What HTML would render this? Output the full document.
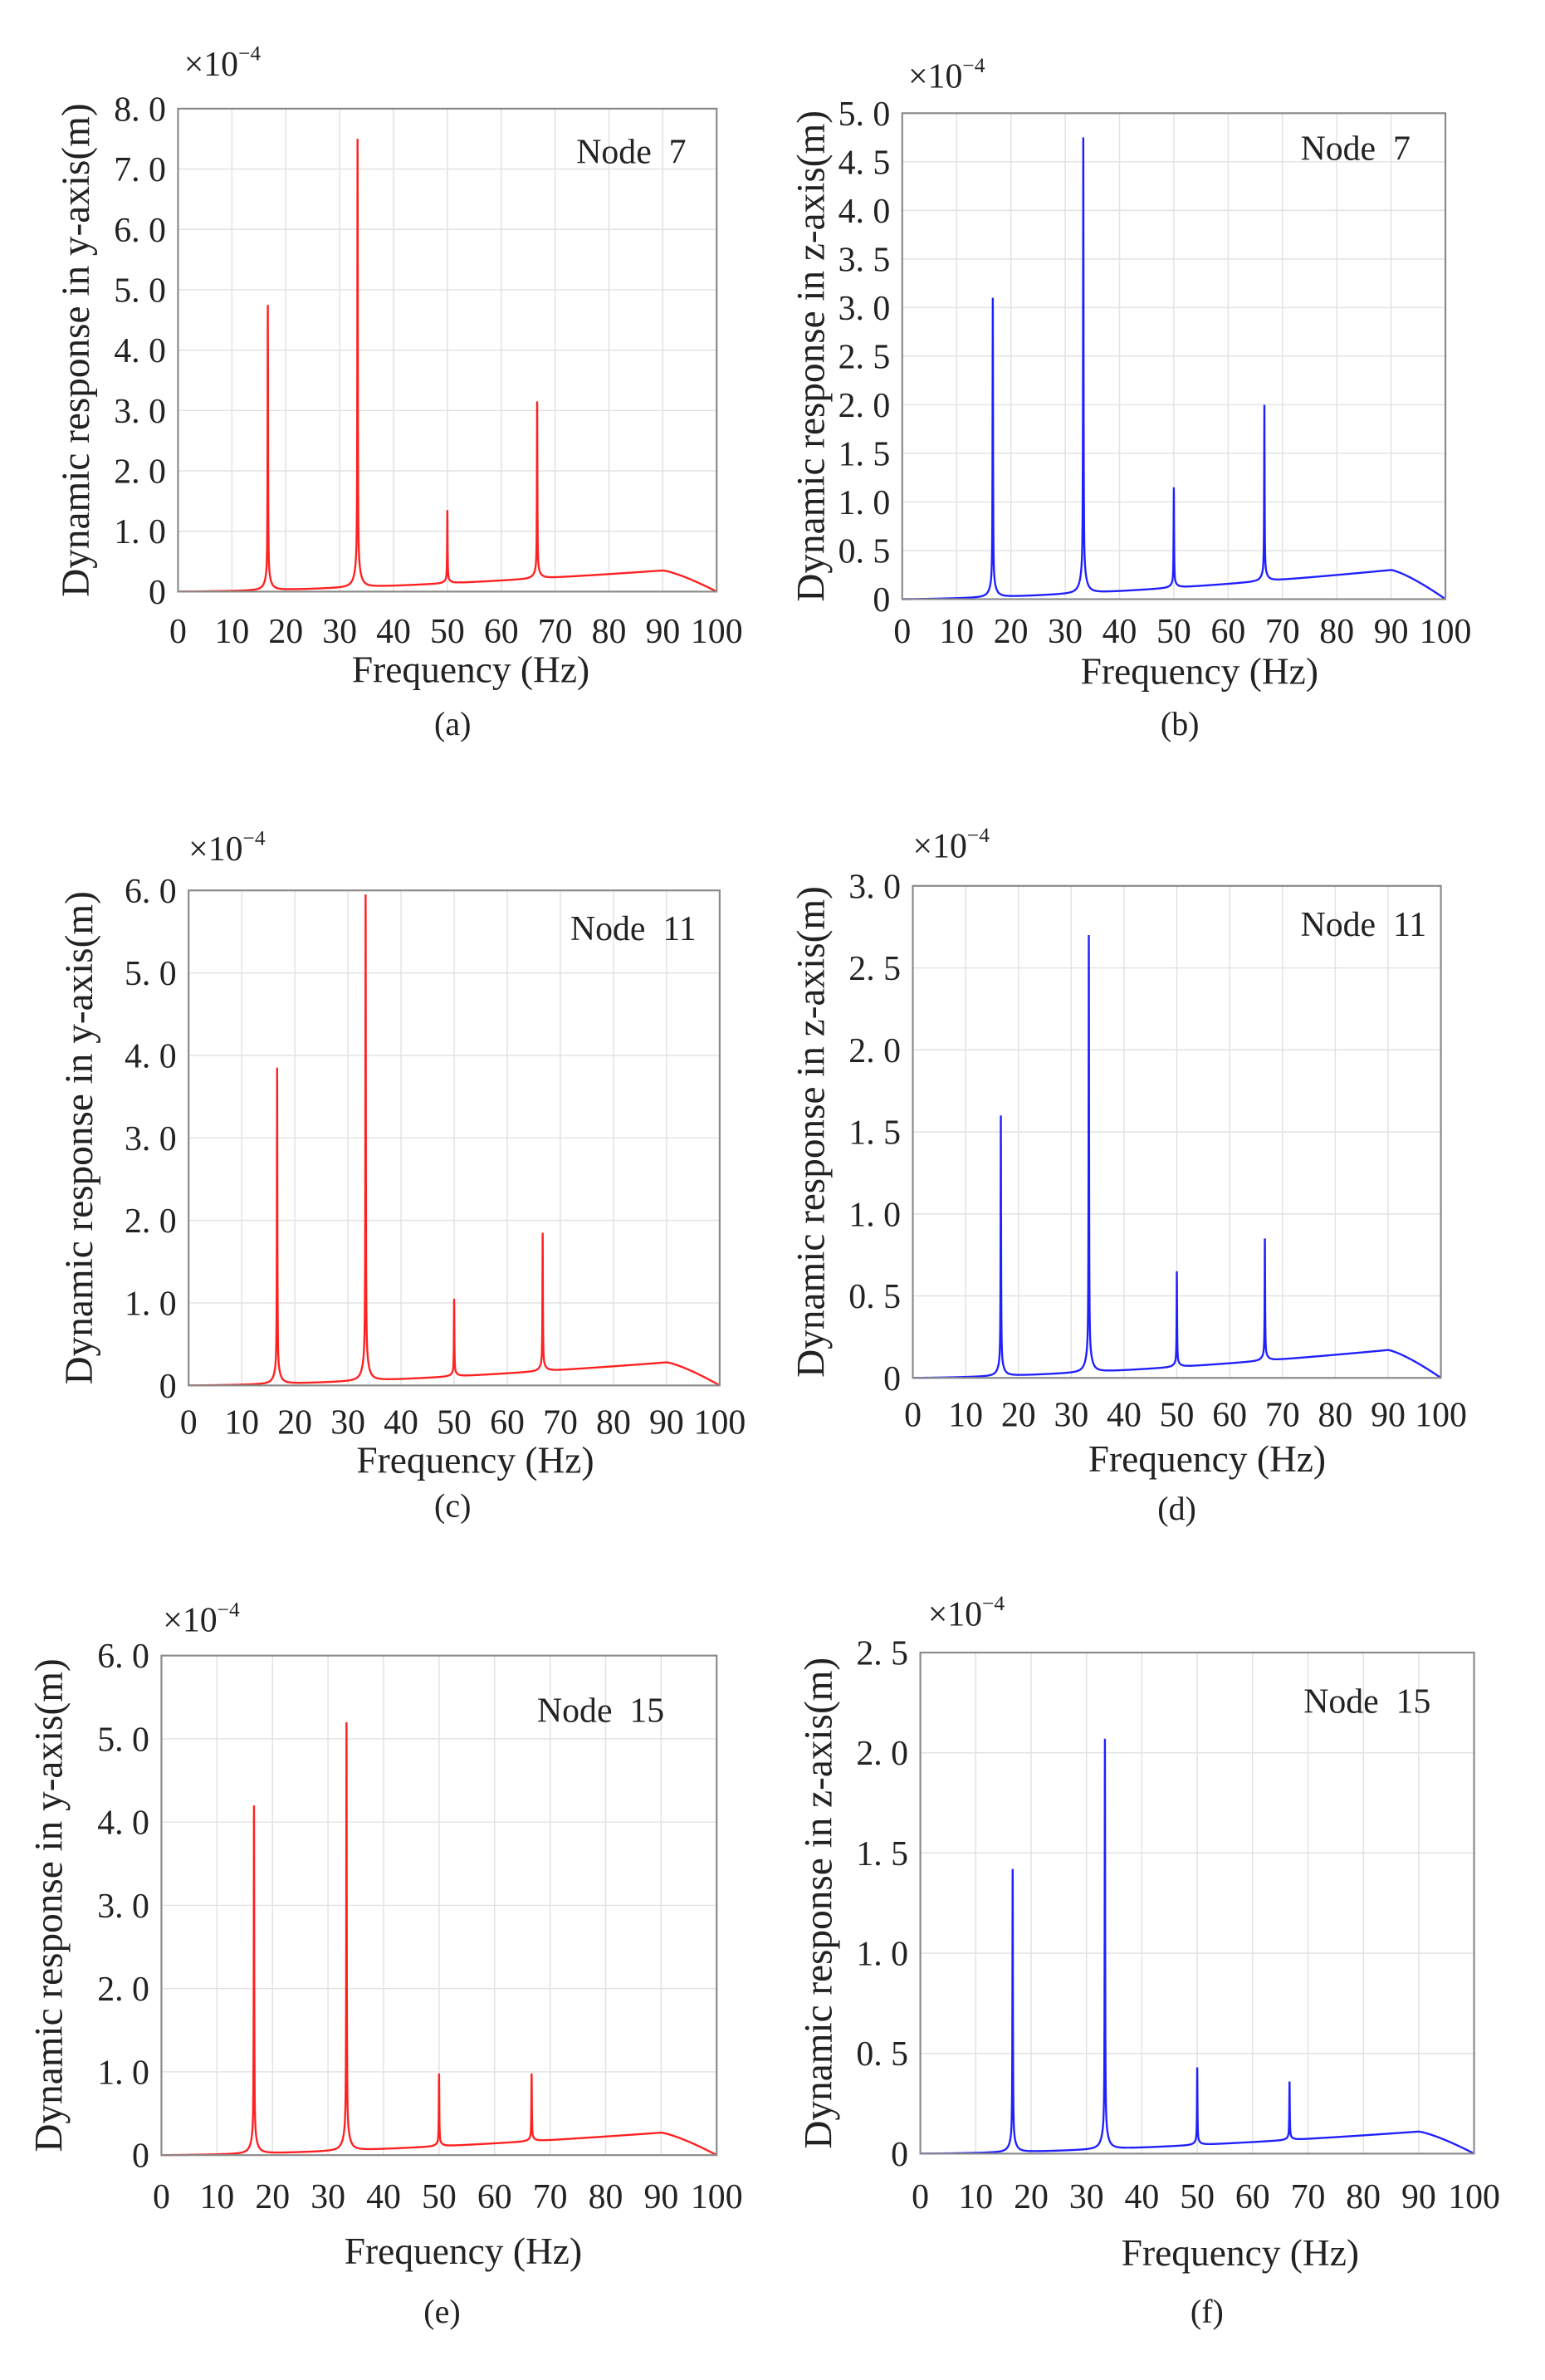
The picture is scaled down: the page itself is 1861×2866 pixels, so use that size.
<!DOCTYPE html>
<html><head><meta charset="utf-8"><style>
html,body{margin:0;padding:0;background:#fff;}
svg{display:block;}
text{font-family:"Liberation Serif","Noto Serif CJK SC",serif;fill:#222;}
</style></head><body>
<svg id="s" width="1861" height="2866" viewBox="0 0 1024 1577" preserveAspectRatio="none" xmlns="http://www.w3.org/2000/svg"></svg>
<script>
const P=[
 {x0:118,x1:475,y0:72,y1:392,max:8,step:1,pk:[4.75,7.5,1.35,3.15],H:0.35,col:'#ff2020',ax:'y',node:'Node  7',nx:382,ny:100,ex:122,ey:42,lx:50,xl:418,fy:444,fx:312,cap:'(a)',cx:300,cy:480},
 {x0:598,x1:958,y0:75,y1:397,max:5,step:0.5,pk:[3.1,4.75,1.15,2.0],H:0.3,col:'#2020ff',ax:'z',node:'Node  7',nx:862,ny:98,ex:602,ey:50,lx:537,xl:418,fy:445,fx:795,cap:'(b)',cx:782,cy:480},
 {x0:125,x1:477,y0:590,y1:918,max:6,step:1,pk:[3.85,5.95,1.05,1.85],H:0.28,col:'#ff2020',ax:'y',node:'Node  11',nx:378,ny:615,ex:125,ey:562,lx:52,xl:942,fy:968,fx:315,cap:'(c)',cx:300,cy:998},
 {x0:605,x1:955,y0:587,y1:913,max:3,step:0.5,pk:[1.6,2.7,0.65,0.85],H:0.17,col:'#2020ff',ax:'z',node:'Node  11',nx:862,ny:612,ex:605,ey:560,lx:537,xl:937,fy:967,fx:800,cap:'(d)',cx:780,cy:1000},
 {x0:107,x1:475,y0:1097,y1:1428,max:6,step:1,pk:[4.2,5.2,0.98,0.98],H:0.27,col:'#ff2020',ax:'y',node:'Node  15',nx:356,ny:1133,ex:108,ey:1073,lx:32,xl:1455,fy:1492,fx:307,cap:'(e)',cx:293,cy:1532},
 {x0:610,x1:977,y0:1095,y1:1427,max:2.5,step:0.5,pk:[1.42,2.07,0.43,0.36],H:0.11,col:'#2020ff',ax:'z',node:'Node  15',nx:864,ny:1127,ex:615,ey:1069,lx:542,xl:1455,fy:1493,fx:822,cap:'(f)',cx:800,cy:1532}
];
const F=[16.67,33.33,50,66.67];
let h='';
for(const p of P){
 const X=v=>p.x0+(p.x1-p.x0)*v/100, Y=v=>p.y1-(p.y1-p.y0)*v/p.max;
 for(let i=10;i<100;i+=10)h+=`<line x1="${X(i)}" y1="${p.y0}" x2="${X(i)}" y2="${p.y1}" stroke="#e2e2e2" stroke-width="0.8"/>`;
 for(let v=p.step;v<p.max-1e-9;v+=p.step)h+=`<line x1="${p.x0}" y1="${Y(v)}" x2="${p.x1}" y2="${Y(v)}" stroke="#e2e2e2" stroke-width="0.8"/>`;
 for(let i=0;i<=100;i+=10)h+=`<text x="${X(i)}" y="${p.xl+8}" font-size="23" text-anchor="middle">${i}</text>`;
 for(let v=0;v<=p.max+1e-9;v+=p.step){const s=v==0?'0':v.toFixed(1).replace('.','. ');h+=`<text x="${p.x0-8}" y="${Y(v)+8}" font-size="23" text-anchor="end">${s}</text>`;}
 const base=x=>x<=90?p.H*Math.pow(x/90,1.6):p.H*(1-Math.pow((x-90)/10,1.3));
 const fn=x=>{let b=base(x);
  let s=0;for(let k=0;k<4;k++){const dx=x-F[k];const tgt=p.pk[k]-base(F[k]);s+=tgt*0.95/(1+Math.pow(dx/0.05,2))+tgt*0.05/(1+Math.pow(dx/0.6,2));}
  return Math.min(b+s,p.max);};
 let xs=[];for(let x=0;x<=100.0001;x+=0.02)xs.push(x);F.forEach(f=>xs.push(f));xs.sort((a,b)=>a-b);
 let pts=[];for(const x of xs)pts.push(X(x).toFixed(2)+','+Y(fn(x)).toFixed(2));
 h+=`<polyline points="${pts.join(' ')}" fill="none" stroke="${p.col}" stroke-width="1.3"/>`;
 h+=`<rect x="${p.x0}" y="${p.y0}" width="${p.x1-p.x0}" height="${p.y1-p.y0}" fill="none" stroke="#8a8a8a" stroke-width="1.2"/>`;
 h+=`<text x="${p.nx}" y="${p.ny+8}" font-size="23">${p.node.replace(/ /g,'\u00a0')}</text>`;
 h+=`<text x="${p.ex}" y="${p.ey+8}" font-size="23">×10<tspan dy="-10" font-size="14">−4</tspan></text>`;
 const cy=(p.y0+p.y1)/2;
 h+=`<text transform="translate(${p.lx+9},${cy}) rotate(-90)" font-size="26" text-anchor="middle">Dynamic response in ${p.ax}-axis(m)</text>`;
 h+=`<text x="${p.fx}" y="${p.fy+8}" font-size="25" text-anchor="middle">Frequency (Hz)</text>`;
 h+=`<text x="${p.cx}" y="${p.cy+7}" font-size="22" text-anchor="middle">${p.cap}</text>`;
}
document.getElementById('s').innerHTML=h;
</script>
</body></html>
